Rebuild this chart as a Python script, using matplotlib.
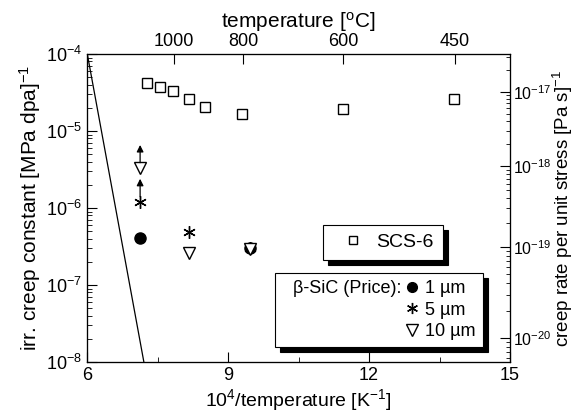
import numpy as np
import matplotlib
matplotlib.use("Agg")
import matplotlib.pyplot as plt
from matplotlib.lines import Line2D
from matplotlib.ticker import FixedLocator, NullFormatter, LogLocator

plt.rcParams['font.family'] = ['Liberation Sans', 'DejaVu Sans']
plt.rcParams['mathtext.default'] = 'regular'
plt.rcParams['mathtext.fontset'] = 'custom'
plt.rcParams['mathtext.rm'] = 'Liberation Sans'

# SCS-6 fibre
scs_x = [7.28, 7.55, 7.83, 8.17, 8.51, 9.30, 11.45, 13.81]
scs_y = [4.2e-5, 3.7e-5, 3.3e-5, 2.6e-5, 2.05e-5, 1.66e-5, 1.93e-5, 2.6e-5]

# beta-SiC (Price), grain size 1, 5, 10 um
sic1_x = [7.13, 9.47]
sic1_y = [4.1e-7, 3.0e-7]
sic5_x = [7.13, 8.17, 9.47]
sic5_y = [1.2e-6, 4.9e-7, 3.0e-7]
sic10_x = [7.13, 8.17, 9.47]
sic10_y = [3.3e-6, 2.6e-7, 2.9e-7]
# points that are lower limits (arrow up)
lower_x = [7.13, 7.13]
lower_y = [1.2e-6, 3.3e-6]

# steep line
line_x = [6.0, 7.21]
line_y = [1.05e-4, 1e-8]

# top axis temperatures [C]
temp_c = [1000, 800, 600, 450]

# right axis: decades and where they sit on the left scale (log10)
right_dec = [-17, -18, -19, -20]
right_pos = [-4.494, -5.455, -6.506, -7.688]

fig = plt.figure(figsize=(5.75, 4.16), dpi=100)
ax = fig.add_axes([0.1513, 0.1298, 0.7357, 0.7404])

ax.plot(line_x, line_y, color='black', lw=0.9)
ax.plot(scs_x, scs_y, ls='none', marker='s', ms=7.5, mfc='white', mec='black', mew=1.0)
ax.plot(sic1_x, sic1_y, ls='none', marker='o', ms=8, mfc='black', mec='black')
ax.plot(sic5_x, sic5_y, ls='none', marker=(6, 2, 0), ms=9, mec='black', mew=1.0)
ax.plot(sic10_x, sic10_y, ls='none', marker='v', ms=9, mfc='white', mec='black', mew=1.0)
for x, y in zip(lower_x, lower_y):
    ax.annotate('', xy=(x, y * 10**0.30), xytext=(x, y * 10**0.07),
                arrowprops=dict(arrowstyle='-|>', color='black', lw=0.9,
                                mutation_scale=10, shrinkA=0, shrinkB=0))

ax.set_yscale('log')
ax.set_xlim(6, 15)
ax.set_ylim(1e-8, 1e-4)
ax.set_xticks([6, 9, 12, 15])
ax.set_xticks([7.5, 10.5, 13.5], minor=True)
ax.yaxis.set_minor_locator(LogLocator(base=10, subs=np.arange(2, 10)))
ax.tick_params(which='both', direction='in', labelsize=13, top=True)
ax.tick_params(which='major', length=7)
ax.tick_params(which='minor', length=3.5)
ax.set_xlabel('10$^4$/temperature [K$^{-1}$]', fontsize=14, labelpad=2)
ax.set_ylabel('irr. creep constant [MPa dpa]$^{-1}$', fontsize=15, labelpad=2)

# top temperature axis
axt = ax.twiny()
axt.set_xlim(ax.get_xlim())
axt.set_xticks([1e4 / (t + 273.15) for t in temp_c])
axt.set_xticklabels([str(t) for t in temp_c])
axt.tick_params(direction='in', length=7, labelsize=13, pad=3)
axt.set_xlabel('temperature [$^o$C]', fontsize=15, labelpad=4)

# right axis
axr = ax.twinx()
axr.set_yscale('log')
axr.set_ylim(ax.get_ylim())
axr.yaxis.set_major_locator(FixedLocator([10**p for p in right_pos]))
axr.set_yticklabels(['10$^{%d}$' % d for d in right_dec])
minor = []
dec_ext = [-16] + right_dec + [-21]
pos_ext = [right_pos[0] + (right_pos[0] - right_pos[1])] + right_pos + [right_pos[-1] - (right_pos[-2] - right_pos[-1])]
for i in range(len(dec_ext) - 1):
    for m in range(2, 10):
        f = np.log10(m)
        p = pos_ext[i + 1] + f * (pos_ext[i] - pos_ext[i + 1])
        if -8 < p < -4:
            minor.append(10**p)
axr.yaxis.set_minor_locator(FixedLocator(minor))
axr.yaxis.set_minor_formatter(NullFormatter())
axr.tick_params(which='both', direction='in', labelsize=11.5, pad=2)
axr.tick_params(which='major', length=7)
axr.tick_params(which='minor', length=3)
axr.set_ylabel('creep rate per unit stress [Pa s]$^{-1}$', fontsize=13.5, labelpad=0)

# legends
h_scs = Line2D([], [], ls='none', marker='s', ms=6, mfc='white', mec='black')
leg1 = ax.legend([h_scs], ['SCS-6'], loc='upper left', bbox_to_anchor=(0.558, 0.445),
                 borderaxespad=0, fancybox=False, edgecolor='black', framealpha=1,
                 fontsize=14, handlelength=2.2, handletextpad=0.1, borderpad=0.45,
                 shadow={'ox': 3.5, 'oy': -3.5, 'color': 'black', 'alpha': 1})
leg1.get_frame().set_linewidth(0.8)
ax.add_artist(leg1)

blank = Line2D([], [], ls='none')
h1 = Line2D([], [], ls='none', marker='o', ms=7, mfc='black', mec='black')
h5 = Line2D([], [], ls='none', marker=(6, 2, 0), ms=8, mec='black')
h10 = Line2D([], [], ls='none', marker='v', ms=8, mfc='white', mec='black')
leg2 = ax.legend([blank, blank, blank, h1, h5, h10],
                 ['\u03b2-SiC (Price):', '', '', ' 1 \u00b5m', ' 5 \u00b5m', ' 10 \u00b5m'],
                 ncol=2, loc='upper left', bbox_to_anchor=(0.444, 0.289),
                 borderaxespad=0, fancybox=False, edgecolor='black', framealpha=1,
                 fontsize=13, handlelength=0.3, handletextpad=0.3, columnspacing=0.45,
                 borderpad=0.4, labelspacing=0.25,
                 shadow={'ox': 3.5, 'oy': -3.5, 'color': 'black', 'alpha': 1})
leg2.get_frame().set_linewidth(0.8)

fig.savefig('out.png', dpi=100)
